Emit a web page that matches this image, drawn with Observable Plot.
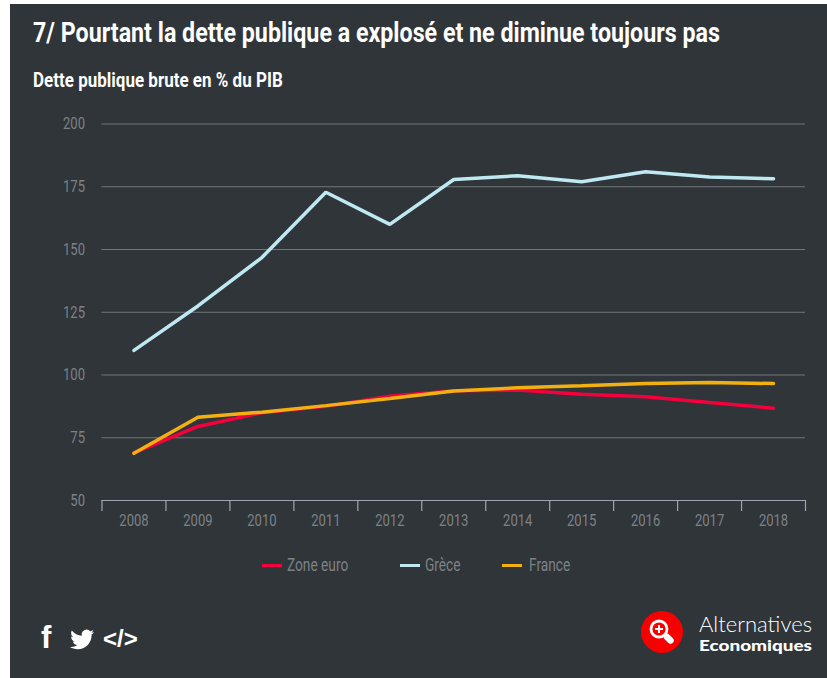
<!DOCTYPE html>
<html lang="fr">
<head>
<meta charset="utf-8">
<script src="https://cdn.jsdelivr.net/npm/d3@7"></script>
<script src="https://cdn.jsdelivr.net/npm/@observablehq/plot@0.6"></script>
<style>
html,body{margin:0;padding:0;background:#fff;}
#panel{position:absolute;left:10px;top:4px;width:817px;height:674px;background:#2f3539;overflow:hidden;
  font-family:"Roboto",sans-serif;}
#title{position:absolute;left:23px;top:13px;color:#fff;font-size:28px;font-weight:700;white-space:nowrap;line-height:32px;transform:scaleX(.83);transform-origin:left center;}
#subtitle{position:absolute;left:23px;top:64px;color:#fff;font-size:21px;font-weight:700;white-space:nowrap;line-height:24px;transform:scaleX(.81);transform-origin:left center;}
#chart{position:absolute;left:0;top:96px;}
#legend{position:absolute;left:0;top:550px;height:22px;width:817px;color:#7d8286;font-size:18.500px;line-height:22px;}
#legend span{position:absolute;top:0;white-space:nowrap;transform:scaleX(.74);transform-origin:left center;}
#legend i{position:absolute;top:9.500px;width:20px;height:3.500px;display:block;}
#social{position:absolute;left:20px;top:608px;overflow:visible;}
#logo{position:absolute;left:630px;top:606px;}
</style>
</head>
<body>
<div id="panel">
  <div id="title">7/ Pourtant la dette publique a explosé et ne diminue toujours pas</div>
  <div id="subtitle">Dette publique brute en % du PIB</div>
  <div id="chart"></div>
  <div id="legend"></div>
  <svg id="social" width="115" height="50" viewBox="0 0 115 50">
    <text x="11" y="36" fill="#fff" font-family="Liberation Sans" font-weight="700" font-size="31">f</text>
    <path transform="translate(10 10)" fill="#fff" d="M54 10c-.9.4-1.8.6-2.800.8 1-.6 1.800-1.600 2.200-2.700-1 .6-2 1-3.100 1.200a4.900 4.900 0 0 0-8.400 4.500c-4.100-.2-7.700-2.200-10.100-5.200a4.900 4.900 0 0 0 1.500 6.600c-.8 0-1.600-.2-2.200-.6v.1c0 2.400 1.700 4.400 3.900 4.800-.7.200-1.500.2-2.200.1.600 2 2.400 3.400 4.600 3.400A9.900 9.900 0 0 1 30 25c2.200 1.400 4.800 2.200 7.600 2.200 9.100 0 14-7.500 14-14v-.6c1-.7 1.800-1.600 2.400-2.600z"/>
    <text x="73" y="35" fill="#fff" font-family="Liberation Sans" font-weight="700" font-size="24">&lt;/&gt;</text>
  </svg>
  <svg id="logo" width="180" height="60" viewBox="0 0 180 60">
    <circle cx="22" cy="22" r="21" fill="#f60000"/>
    <circle cx="19" cy="19" r="8" fill="none" stroke="#fff" stroke-width="2.800"/>
    <path d="M15 19h8M19 15v8" stroke="#fff" stroke-width="2"/>
    <path d="M27 27l3.500 3.500" stroke="#fff" stroke-width="6.500" stroke-linecap="round"/>
    <text x="59" y="21.500" fill="#fff" font-family="Lato" font-weight="300" font-size="21" textLength="113" lengthAdjust="spacingAndGlyphs">Alternatives</text>
    <text x="59" y="40.500" fill="#fff" font-family="Lato" font-weight="900" font-size="14.500" textLength="113" lengthAdjust="spacingAndGlyphs">Economiques</text>
  </svg>
</div>
<script>
const years = [2008,2009,2010,2011,2012,2013,2014,2015,2016,2017,2018];
const zoneEuro = [69,79.5,85,87.5,91.5,93.7,94,92.3,91.3,89,86.8];
const grece = [109.8,127.5,146.8,172.8,160,177.9,179.4,177,181,178.9,178.2];
const france = [68.8,83.2,85.2,87.8,90.6,93.6,94.9,95.7,96.6,97,96.6];
const yTicks = [50,75,100,125,150,175,200];
const gridValues = [75,100,125,150,175,200];
const bandEdges = [2007.5,2008.5,2009.5,2010.5,2011.5,2012.5,2013.5,2014.5,2015.5,2016.5,2017.5,2018.5];
const seriesNames = ["Zone euro","Grèce","France"];
const seriesColors = ["#f5003c","#bfe9f2","#f2b111"];
const seriesValues = [zoneEuro,grece,france];

const rows = seriesNames.flatMap((name,i)=>years.map((year,j)=>({name,year,value:seriesValues[i][j]})));

const chart = Plot.plot({
  width:817,height:432.500,
  marginLeft:91.5,marginRight:22,marginTop:23.5,marginBottom:32.5,
  style:{background:"transparent",fontFamily:'"Roboto",sans-serif',fontSize:"16.500px",overflow:"visible"},
  x:{domain:[2007.5,2018.5],label:null},
  y:{domain:[50,200],label:null},
  color:{domain:seriesNames,range:seriesColors},
  marks:[
    Plot.ruleY(gridValues,{stroke:"#73777a",strokeWidth:1}),
    Plot.ruleY([50],{stroke:"#a0a5b3",strokeWidth:1.200}),
    Plot.ruleX(bandEdges,{y1:50,y2:50,stroke:"#a0a5b3",strokeWidth:1.200,insetBottom:-11}),
    Plot.axisY(yTicks,{tickSize:0,tickPadding:17,color:"#7d8286",label:null,fontSize:16.500}),
    Plot.axisX(years,{tickSize:0,tickPadding:13.500,color:"#7d8286",label:null,tickFormat:d=>String(d),fontSize:16.500}),
    Plot.line(rows,{x:"year",y:"value",z:"name",stroke:"name",strokeWidth:3.500,strokeLinejoin:"miter",curve:"linear"})
  ]
});
document.getElementById("chart").appendChild(chart);
// Condense axis labels: no condensed face is installed.
chart.querySelectorAll("text").forEach(t=>{
  const len=t.getComputedTextLength();
  t.setAttribute("textLength",len*0.79);
  t.setAttribute("lengthAdjust","spacingAndGlyphs");
});

const legend = document.getElementById("legend");
const swatchX = [252,390,492];
const labelX = [277,415,519];
seriesNames.forEach((name,i)=>{
  const sw=document.createElement("i");
  sw.style.left=swatchX[i]+"px";sw.style.background=seriesColors[i];
  legend.appendChild(sw);
  const t=document.createElement("span");
  t.style.left=labelX[i]+"px";t.textContent=name;
  legend.appendChild(t);
});
</script>
</body>
</html>
